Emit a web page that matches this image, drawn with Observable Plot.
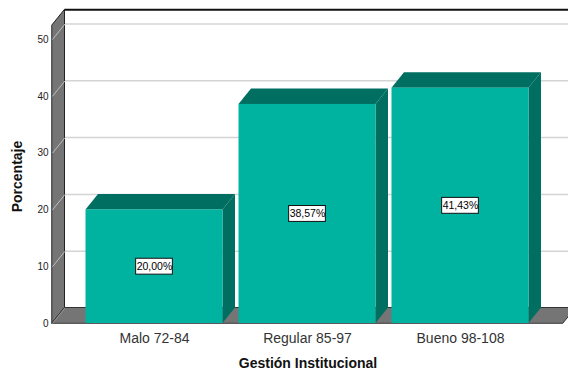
<!DOCTYPE html>
<html>
<head>
<meta charset="utf-8">
<script src="https://cdn.jsdelivr.net/npm/d3@7"></script>
<script src="https://cdn.jsdelivr.net/npm/@observablehq/plot@0.6"></script>
<style>
  html, body { margin: 0; padding: 0; background: #fff; overflow: hidden; }
  #chart svg { display: block; }
</style>
</head>
<body>
<div id="chart"></div>
<script>
// ---- data ----
const categories = ["Malo 72-84", "Regular 85-97", "Bueno 98-108"];
const values = [20.00, 38.57, 41.43];
const valueLabels = ["20,00%", "38,57%", "41,43%"];
const yTicks = [0, 10, 20, 30, 40, 50];
const gridValues = [10, 20, 30, 40, 50];

// ---- geometry (in data units) ----
const W = 568, H = 374;
const mL = 52, mR = 5, mT = 39, mB = 51;
const pxPerX = 153;                 // px per category step
const xMin = (mL - 154) / pxPerX;   // front-left of wall
const xMax = (W - mR - 154) / pxPerX;
const pxPerY = (H - mB - mT) / 50;
const DXU = 12.5 / pxPerX;          // depth offset
const DYU = 15.5 / pxPerY;
const wallTop = 52.5;
const half = 68.5 / pxPerX;
const farRight = xMax + 0.3;

const bars = categories.map((c, i) => ({c, i, v: values[i], label: valueLabels[i]}));

const sidePts = bars.flatMap(b => [
  {z: b.i, x: b.i + half, y1: 0, y2: b.v},
  {z: b.i, x: b.i + half + DXU, y1: DYU, y2: b.v + DYU}
]);
const topPts = bars.flatMap(b => [
  {z: b.i, y: b.v, x1: b.i - half, x2: b.i + half},
  {z: b.i, y: b.v + DYU, x1: b.i - half + DXU, x2: b.i + half + DXU}
]);

const front = "#00B3A0";
const dark = "#006E60";
const gray = "#757575";

const chart = Plot.plot({
  width: W, height: H,
  marginLeft: mL, marginRight: mR, marginTop: mT, marginBottom: mB,
  style: {fontFamily: "'Liberation Sans', Arial, sans-serif", background: "#fff", overflow: "hidden"},
  x: {domain: [xMin, xMax], axis: null},
  y: {domain: [0, 50], axis: null},
  marks: [
    // back wall gridlines
    Plot.ruleY(gridValues, {y: d => d + DYU, x1: xMin + DXU, x2: farRight, stroke: "#d4d4d4", strokeWidth: 1.5}),
    // back wall top border
    Plot.ruleY([wallTop + DYU], {x1: xMin + DXU, x2: farRight, stroke: "#111", strokeWidth: 2}),
    // left wall
    Plot.areaY([{x: xMin, y1: 0, y2: wallTop}, {x: xMin + DXU, y1: DYU, y2: wallTop + DYU}],
      {x: "x", y1: "y1", y2: "y2", fill: gray, stroke: "#222", strokeWidth: 1}),
    // left wall gridlines (diagonal)
    Plot.link(gridValues, {x1: xMin, y1: d => d, x2: xMin + DXU, y2: d => d + DYU, stroke: "#bdbdbd", strokeWidth: 1}),
    // floor
    Plot.areaX([{y: 0, x1: xMin, x2: xMax}, {y: DYU, x1: xMin + DXU, x2: xMax + DXU}],
      {y: "y", x1: "x1", x2: "x2", fill: gray, stroke: "#333", strokeWidth: 1}),
    Plot.link([0], {x1: xMin, y1: 0, x2: xMin + DXU, y2: DYU, stroke: "#999", strokeWidth: 1}),
    // bars: side, top, front
    Plot.areaY(sidePts, {x: "x", y1: "y1", y2: "y2", z: "z", fill: dark}),
    Plot.areaX(topPts, {y: "y", x1: "x1", x2: "x2", z: "z", fill: dark}),
    Plot.rect(bars, {x1: d => d.i - half, x2: d => d.i + half, y1: 0, y2: "v", fill: front}),
    // value labels
    Plot.rect(bars, {x1: d => d.i - 0.12, x2: d => d.i + 0.12, y1: d => d.v / 2 - 1.4, y2: d => d.v / 2 + 1.4,
      fill: "#fff", stroke: "#111", strokeWidth: 1}),
    Plot.text(bars, {x: "i", y: d => d.v / 2, text: "label", fontSize: 10.5, fill: "#000"}),
    // y tick labels
    Plot.text(yTicks, {x: xMin, y: d => d, text: d => String(d), textAnchor: "end", dx: -4, fontSize: 10, fill: "#222"}),
    // x category labels
    Plot.text(bars, {x: "i", y: 0, text: "c", dy: 15, fontSize: 14, fill: "#333"}),
    // axis titles
    Plot.text(["Gestión Institucional"], {frameAnchor: "bottom", dy: 44, text: d => d, fontSize: 14, fontWeight: "bold", fill: "#111"}),
    Plot.text(["Porcentaje"], {frameAnchor: "left", textAnchor: "middle", dx: -35, dy: -5, rotate: -90, text: d => d, fontSize: 14, fontWeight: "bold", fill: "#111"})
  ]
});
document.getElementById("chart").appendChild(chart);
</script>
</body>
</html>
